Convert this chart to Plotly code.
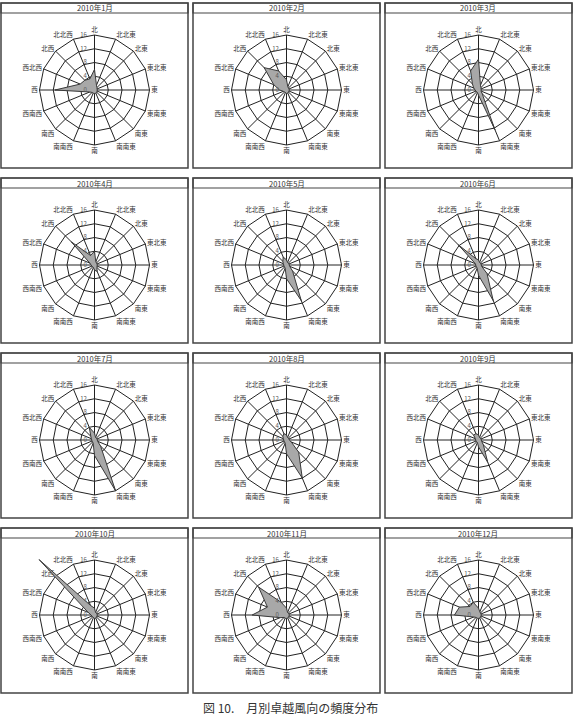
import plotly.graph_objects as go

W, H = 575, 720

directions = ["北", "北北東", "北東", "東北東", "東", "東南東", "南東", "南南東",
              "南", "南南西", "南西", "西南西", "西", "西北西", "北西", "北北西"]
months = ["2010年1月", "2010年2月", "2010年3月", "2010年4月", "2010年5月", "2010年6月",
          "2010年7月", "2010年8月", "2010年9月", "2010年10月", "2010年11月", "2010年12月"]

jan = [6, 1.5, 1, 0.8, 0.8, 0.8, 1, 1, 1, 1, 1, 1.5, 11.5, 4.5, 4, 3.5]
feb = [3, 1, 0.8, 0.8, 0.8, 0.8, 0.8, 1, 1, 0.8, 0.8, 1, 2, 4, 9.2, 6]
mar = [9, 1.5, 1, 0.8, 0.8, 0.8, 1.5, 12.5, 1.5, 0.8, 0.8, 0.8, 1, 1.5, 2.5, 6]
apr = [4, 1, 0.8, 0.8, 0.8, 0.8, 1, 2, 1.5, 0.8, 0.8, 0.8, 1, 1.5, 9.5, 3]
may = [1.5, 0.8, 0.8, 0.8, 0.8, 1, 2.5, 11.2, 4, 1, 0.8, 0.8, 0.8, 1, 1.5, 2.5]
jun = [1.5, 0.8, 0.8, 0.8, 0.8, 1, 3.5, 11.2, 3, 1, 0.8, 0.8, 0.8, 1, 8.3, 2]
jul = [2, 0.8, 0.8, 0.8, 0.8, 1, 2.5, 16, 4.5, 1, 0.8, 0.8, 0.8, 1, 1.5, 4]
aug = [1.5, 0.8, 0.8, 0.8, 0.8, 1.5, 5, 12, 4, 1, 0.8, 0.8, 0.8, 1, 1.5, 2]
sep = [1.5, 0.8, 0.8, 0.8, 0.8, 1, 2, 7, 2, 0.8, 0.8, 0.8, 0.8, 1, 2, 2]
oct_ = [2, 0.8, 0.8, 0.8, 0.8, 0.8, 0.8, 1, 1, 0.8, 0.8, 0.8, 1, 2, 22.8, 3]
nov = [2, 0.8, 0.8, 0.8, 0.8, 0.8, 0.8, 1, 1, 1, 1, 2, 10, 6, 11.5, 4]
dec = [2, 1, 0.8, 0.8, 0.8, 0.8, 0.8, 1, 1, 1, 1, 1.5, 7, 6, 3.5, 4]

series = [jan, feb, mar, apr, may, jun, jul, aug, sep, oct_, nov, dec]
radial_ticks = [0, 4, 8, 12, 16]
caption = "図 10.　月別卓越風向の頻度分布"

FONT = "Noto Sans CJK JP"
col_x0 = [1, 193, 385]
row_y0 = [3, 178, 353, 528]
box_w, box_h = 187, 165
radius = 55
centre_dy = 87
rmax = radial_ticks[-1]

fig = go.Figure()
shapes = []
annotations = []

def px(x):
    return x / W

def py(y):
    return 1 - y / H

extra = len(months)
for i, (name, vals) in enumerate(zip(months, series)):
    r_i, c_i = divmod(i, 3)
    x0, y0 = col_x0[c_i], row_y0[r_i]
    cx = x0 + box_w / 2
    cy = y0 + centre_dy
    pid = "polar" if i == 0 else f"polar{i+1}"

    # values past the outer ring are drawn on a transparent, larger twin of the subplot
    vmax = max(vals)
    if vmax > rmax:
        extra += 1
        data_pid = f"polar{extra}"
        outer = vmax * 1.05
        rad = radius * outer / rmax
        fig.layout[data_pid] = dict(
            domain=dict(x=[px(cx - rad), px(cx + rad)], y=[py(cy + rad), py(cy - rad)]),
            gridshape="linear", bgcolor="rgba(0,0,0,0)",
            angularaxis=dict(type="category", categoryorder="array", categoryarray=directions,
                             direction="clockwise", rotation=90, visible=False),
            radialaxis=dict(range=[0, outer], visible=False),
        )
    else:
        data_pid = pid

    fig.add_trace(go.Scatterpolar(
        r=vals + [vals[0]], theta=directions + [directions[0]],
        mode="lines", fill="toself", fillcolor="#a8a8a8",
        line=dict(color="#3a3a3a", width=1), subplot=data_pid,
        hoverinfo="skip", showlegend=False))
    # dark hub where all spokes meet
    fig.add_trace(go.Scatterpolar(
        r=[radial_ticks[0]], theta=[directions[0]], mode="markers",
        marker=dict(color="#111", size=6), subplot=pid,
        hoverinfo="skip", showlegend=False))
    fig.layout[pid] = dict(
        domain=dict(x=[px(cx - radius), px(cx + radius)],
                    y=[py(cy + radius), py(cy - radius)]),
        gridshape="linear", bgcolor="rgba(0,0,0,0)",
        angularaxis=dict(type="category", categoryorder="array", categoryarray=directions,
                         direction="clockwise", rotation=90,
                         showline=True, linecolor="#222", linewidth=1,
                         gridcolor="#222", gridwidth=0.8, ticks="",
                         tickfont=dict(size=6.5, color="#333", family=FONT)),
        radialaxis=dict(range=[0, rmax], tickvals=radial_ticks, angle=90,
                        showline=False, gridcolor="#222", gridwidth=0.8,
                        ticks="outside", ticklen=5, tickcolor="rgba(0,0,0,0)",
                        side="counterclockwise", tickangle=90,
                        tickfont=dict(size=6, color="#555", family=FONT)),
    )
    shapes.append(dict(type="rect", xref="paper", yref="paper",
                       x0=px(x0), x1=px(x0 + box_w), y0=py(y0 + box_h), y1=py(y0),
                       line=dict(color="#444", width=1.5)))
    shapes.append(dict(type="rect", xref="paper", yref="paper",
                       x0=px(x0), x1=px(x0 + box_w), y0=py(y0 + 10), y1=py(y0),
                       line=dict(color="#444", width=1.2)))
    annotations.append(dict(text=name, xref="paper", yref="paper",
                            x=px(cx), y=py(y0 + 5), showarrow=False,
                            xanchor="center", yanchor="middle",
                            font=dict(size=7.5, color="#333", family=FONT)))

annotations.append(dict(text=caption, xref="paper", yref="paper",
                        x=px(290), y=py(707), showarrow=False,
                        xanchor="center", yanchor="middle",
                        font=dict(size=12, color="#333", family=FONT)))

fig.update_layout(width=W, height=H, margin=dict(l=0, r=0, t=0, b=0),
                  paper_bgcolor="white", plot_bgcolor="white",
                  shapes=shapes, annotations=annotations, showlegend=False)
fig.write_html("out.html")
